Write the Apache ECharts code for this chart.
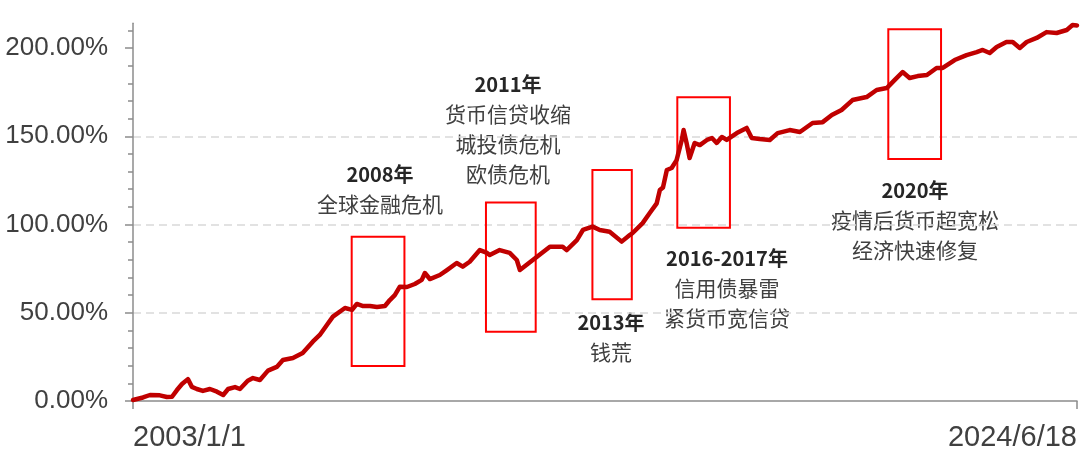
<!DOCTYPE html>
<html>
<head>
<meta charset="utf-8">
<script src="https://cdn.jsdelivr.net/npm/echarts@6/dist/echarts.min.js"></script>
<style>
html,body{margin:0;padding:0;background:#fff;}
#chart{width:1080px;height:463px;}
</style>
</head>
<body>
<div id="chart"></div>
<script>
// ---- data ----
var dates = [
  '2003-01-01','2003-03-25','2003-05-22','2003-08-12','2003-10-09','2003-11-21',
  '2004-01-01','2004-02-12','2004-04-01','2004-05-04','2004-06-14','2004-08-03','2004-10-01','2004-11-28',
  '2005-01-19','2005-03-01','2005-04-27','2005-06-07','2005-08-11','2005-09-23','2005-11-20',
  '2006-01-26','2006-04-09','2006-05-30','2006-08-21','2006-11-10',
  '2007-02-02','2007-04-01','2007-05-30','2007-07-19','2007-10-27','2007-12-25',
  '2008-02-03','2008-03-26','2008-05-22','2008-07-19','2008-09-23','2008-11-03','2008-12-14',
  '2009-01-25','2009-03-25','2009-05-29','2009-07-26','2009-08-21','2009-10-01','2009-12-23',
  '2010-02-20','2010-05-12','2010-07-01','2010-08-28','2010-11-20',
  '2011-01-19','2011-02-10','2011-05-04','2011-07-26','2011-09-23','2011-10-19',
  '2012-02-03','2012-06-24','2012-10-08','2012-11-10',
  '2013-02-03','2013-03-25','2013-06-14','2013-08-12','2013-11-02',
  '2014-02-10','2014-04-18','2014-05-12','2014-08-03','2014-10-01','2014-11-28','2014-12-24',
  '2015-01-19','2015-02-20','2015-04-01','2015-05-12','2015-06-24','2015-07-09','2015-08-03','2015-08-28','2015-10-09','2015-11-21',
  '2016-01-19','2016-03-01','2016-04-09','2016-05-22','2016-07-01','2016-09-23','2016-12-14',
  '2017-01-25','2017-04-01','2017-06-24','2017-08-28','2017-12-06',
  '2018-03-01','2018-06-14','2018-09-06','2018-11-21',
  '2019-02-10','2019-05-12','2019-09-06','2019-11-28',
  '2020-02-20','2020-04-27','2020-07-01','2020-08-28','2020-11-03',
  '2021-01-19','2021-04-09','2021-05-30','2021-09-06','2021-12-14',
  '2022-03-08','2022-04-27','2022-06-24','2022-08-21','2022-11-10',
  '2023-01-01','2023-03-01','2023-04-27','2023-07-19','2023-10-09',
  '2024-01-01','2024-03-25','2024-05-12','2024-06-18'
];
var cumReturn = [
  0.6,2.0,3.4,3.2,2.3,2.4,
  6.2,9.6,12.4,8.0,6.8,5.7,6.8,5.3,
  3.4,6.8,7.9,6.8,11.5,13.0,11.9,
  17.2,19.3,23.2,24.4,27.2,
  33.6,37.4,43.1,47.8,52.7,51.6,
  55.0,53.8,53.8,53.3,53.8,57.2,60.0,
  64.8,64.6,66.3,68.6,72.5,69.1,71.4,
  74.2,78.2,76.1,78.9,85.5,
  83.9,82.7,85.5,83.9,79.9,74.2,
  79.9,87.4,87.4,85.5,
  91.2,96.9,98.8,96.9,95.9,
  90.3,94.0,95.2,100.8,106.5,112.0,119.5,
  121.0,130.9,132.0,136.5,147.9,153.5,146.2,137.7,146.2,145.0,
  147.9,149.0,146.2,149.6,147.9,151.8,154.7,
  149.0,148.4,147.9,151.8,153.5,
  152.4,157.5,158.0,162.0,
  164.9,170.5,172.2,176.2,
  177.3,181.9,186.4,183.0,184.1,
  184.7,188.7,188.7,193.2,196.0,
  197.7,198.9,197.2,200.6,203.4,
  203.4,200.0,203.4,205.7,209.0,
  208.5,210.2,213.0,212.8
];
var xTickLabels = ['2003/1/1', '2024/6/18'];
var xRange = ['2003-01-01', '2024-06-18'];
var yMajorTicks = [0, 50, 100, 150, 200];
var yMinorTicks = [0,10,20,30,40,50,60,70,80,90,100,110,120,130,140,150,160,170,180,190,200,210];

// highlighted periods: [start date, end date, low %, high %]
var periodStart = ['2007-12-22','2011-01-10','2013-06-12','2015-05-18','2020-03-04'];
var periodEnd   = ['2009-03-04','2012-02-27','2014-05-05','2016-07-28','2021-05-16'];
var periodLow   = [19.8, 39.3, 57.6, 98.2, 137.1];
var periodHigh  = [93.1, 112.4, 130.9, 172.1, 210.6];

// annotation texts
var noteTitles = ['2008年','2011年','2013年','2016-2017年','2020年'];
var noteLines = [
  ['全球金融危机'],
  ['货币信贷收缩','城投债危机','欧债危机'],
  ['钱荒'],
  ['信用债暴雷','紧货币宽信贷'],
  ['疫情后货币超宽松','经济快速修复']
];
// ---- end data ----

var noteAnchor = [[380,174],[508,84],[611,322],[727,258],[915,190]];

function ts(s){ return Date.parse(s + 'T00:00:00Z'); }
var tMin = ts(xRange[0]), tMax = ts(xRange[1]);
var lineData = dates.map(function(d,i){ return [ts(d), cumReturn[i]]; });
var areas = periodStart.map(function(s,i){
  return [{coord:[ts(s), periodHigh[i]]}, {coord:[ts(periodEnd[i]), periodLow[i]]}];
});

var graphics = [];
noteTitles.forEach(function(t,i){
  var cx = noteAnchor[i][0], cy = noteAnchor[i][1];
  graphics.push({type:'text', x:cx, y:cy, style:{text:t, fill:'#262626', font:'bold 20px "Noto Sans CJK SC", sans-serif', align:'center', verticalAlign:'middle'}});
  noteLines[i].forEach(function(l,j){
    graphics.push({type:'text', x:cx, y:cy + 30*(j+1), style:{text:l, fill:'#404040', font:'21px "Noto Sans CJK SC", sans-serif', align:'center', verticalAlign:'middle'}});
  });
});

var chart = echarts.init(document.getElementById('chart'), null, {renderer:'canvas'});
var axisGray = '#8c8c8c';
chart.setOption({
  animation:false,
  backgroundColor:'#ffffff',
  grid:{left:133, right:3, top:23.3, bottom:62, containLabel:false},
  xAxis:{
    type:'value', min:tMin, max:tMax,
    axisLine:{show:true, onZero:false, lineStyle:{color:axisGray, width:1.5}},
    axisTick:{show:true, length:8, customValues:[tMin, tMax], lineStyle:{color:axisGray, width:1.5}},
    axisLabel:{
      customValues:[tMin, tMax],
      alignMinLabel:'left', alignMaxLabel:'right',
      formatter:function(v){ return Math.abs(v - tMin) < 86400000 ? xTickLabels[0] : xTickLabels[1]; },
      fontSize:29, color:'#404040', fontFamily:'"Liberation Sans", Arial, sans-serif', margin:22
    },
    splitLine:{show:false}
  },
  yAxis:[{
    type:'value', min:0, max:214, position:'left',
    axisLine:{show:true, lineStyle:{color:axisGray, width:1.5}},
    axisTick:{show:true, length:8, customValues:yMajorTicks, lineStyle:{color:axisGray, width:1.5}},
    axisLabel:{customValues:yMajorTicks, formatter:function(v){ return v.toFixed(2)+'%'; },
      fontSize:26, color:'#404040', fontFamily:'"Liberation Sans", Arial, sans-serif', margin:25},
    splitLine:{show:true, showMinLine:false, showMaxLine:false, lineStyle:{color:'#d9d9d9', width:1.5, type:[8,5]}}
  },{
    type:'value', min:0, max:214, position:'left',
    axisLine:{show:false},
    axisTick:{show:true, length:5, customValues:yMinorTicks, lineStyle:{color:axisGray, width:1.5}},
    axisLabel:{show:false},
    splitLine:{show:false}
  }],
  series:[{
    type:'line', data:lineData, showSymbol:false, symbol:'none',
    lineStyle:{color:'#c00000', width:4.5, join:'round', cap:'round'},
    itemStyle:{color:'#c00000'},
    markArea:{
      silent:true,
      itemStyle:{color:'rgba(0,0,0,0)', borderColor:'#ff0000', borderWidth:2},
      label:{show:false},
      data:areas
    }
  }],
  graphic:graphics
});
</script>
</body>
</html>
